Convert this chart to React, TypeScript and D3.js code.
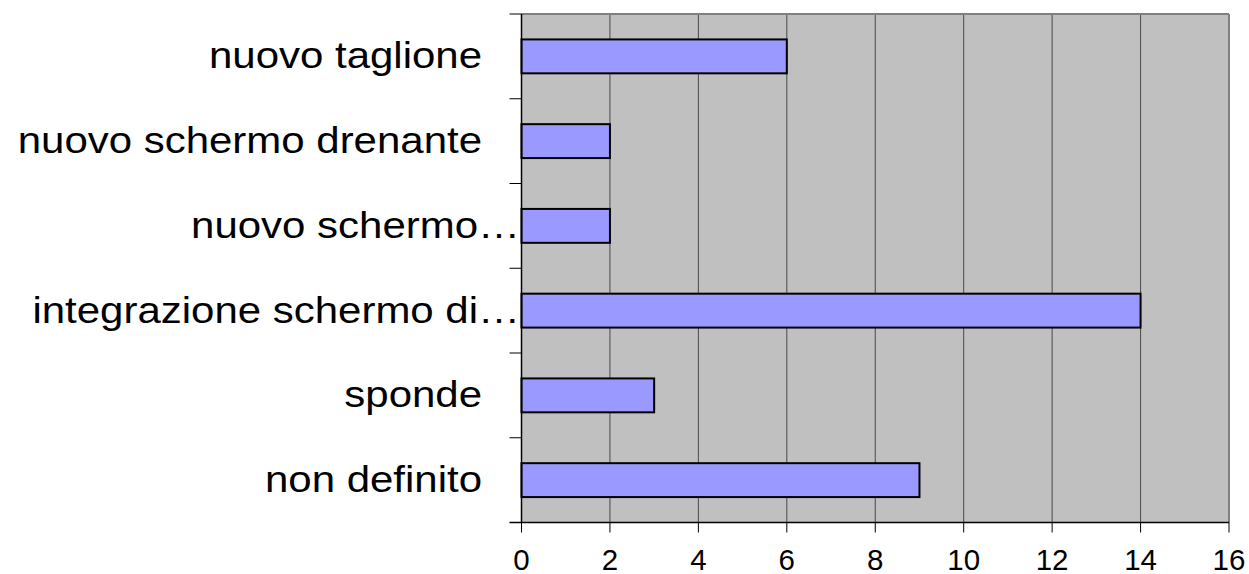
import React from "react";
import * as d3 from "d3";

const categories = [
  "nuovo taglione",
  "nuovo schermo drenante",
  "nuovo schermo…",
  "integrazione schermo di…",
  "sponde",
  "non definito",
];
const truncated = [false, false, true, true, false, false];
const values = [6, 2, 2, 14, 3, 9];
const xTicks = [0, 2, 4, 6, 8, 10, 12, 14, 16];

const W = 1249;
const H = 574;
const left = 521.5;
const right = 1229;
const top = 14;
const bottom = 522.5;

export default function App() {
  const x = d3.scaleLinear().domain([0, 16]).range([left, right]);
  const y = d3
    .scaleBand<string>()
    .domain(categories)
    .range([top, bottom])
    .paddingInner(0.6)
    .paddingOuter(0.3);
  const step = (bottom - top) / categories.length;
  const font = "'Liberation Sans', Arial, sans-serif";
  return (
    <svg
      width={W}
      height={H}
      style={{ position: "absolute", left: 0, top: 0, background: "#fff" }}
    >
      <rect x={left} y={top} width={right - left} height={bottom - top} fill="#C0C0C0" />
      {xTicks.slice(1).map((t) => (
        <line key={t} x1={x(t)} x2={x(t)} y1={top} y2={bottom} stroke={t === 16 ? "#808080" : "#4a4a4a"} strokeWidth={t === 16 ? 2 : 1} />
      ))}
      <line x1={left} x2={right} y1={top} y2={top} stroke="#808080" strokeWidth={2} />
      {categories.map((c, i) => (
        <rect
          key={c}
          x={x(0)}
          y={y(c)!}
          width={x(values[i]) - x(0)}
          height={y.bandwidth()}
          fill="#9999FF"
          stroke="#000"
          strokeWidth={2}
        />
      ))}
      <line x1={left} x2={left} y1={top} y2={bottom} stroke="#000" strokeWidth={1.5} />
      <line x1={left - 12} x2={right} y1={bottom} y2={bottom} stroke="#000" strokeWidth={1.5} />
      {d3.range(categories.length).map((i) => (
        <line key={i} x1={left - 12} x2={left} y1={top + i * step} y2={top + i * step} stroke="#000" strokeWidth={1} />
      ))}
      {xTicks.map((t) => (
        <g key={t}>
          <line x1={x(t)} x2={x(t)} y1={bottom} y2={bottom + 10} stroke="#000" strokeWidth={1} />
          <text x={x(t)} y={569.5} textAnchor="middle" fontFamily={font} fontSize={29.5} fill="#000">
            {t}
          </text>
        </g>
      ))}
      {categories.map((c, i) => (
        <text
          key={c}
          transform={`translate(${truncated[i] ? 520 : 482},${y(c)! + y.bandwidth() / 2 + 12}) scale(1.15,1)`}
          textAnchor="end"
          fontFamily={font}
          fontSize={36.5}
          fill="#000"
        >
          {c}
        </text>
      ))}
    </svg>
  );
}
